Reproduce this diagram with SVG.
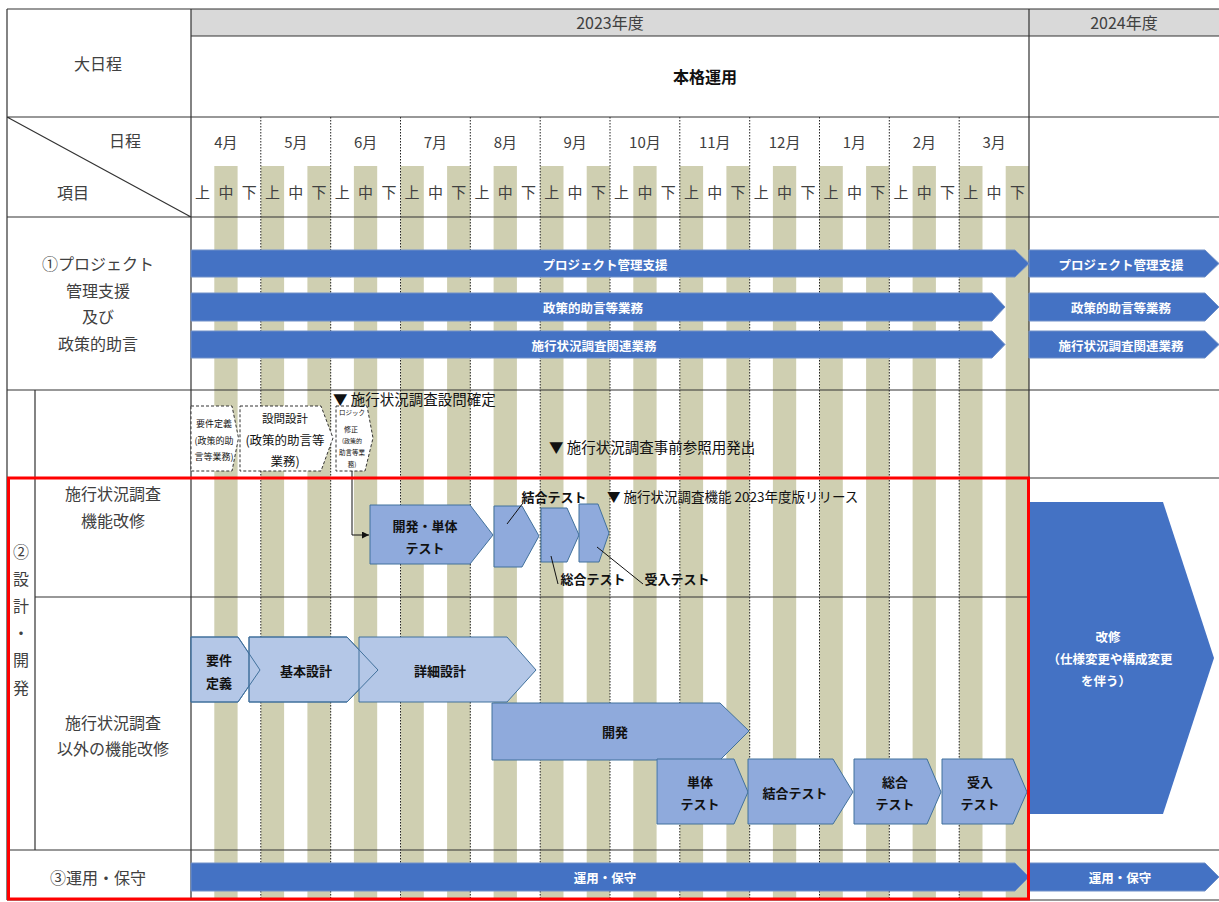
<svg xmlns="http://www.w3.org/2000/svg" width="1219" height="902" viewBox="0 0 1219 902">
<style>
.t{font-family:"Noto Sans CJK JP","Noto Sans",sans-serif;fill:#404040;dominant-baseline:central;text-anchor:middle}
.f16{font-size:16px}
.f15{font-size:15px}
.w{fill:#fff;font-weight:bold;font-size:12.5px}
.b{font-weight:bold;fill:#111;font-size:13px}
.k{fill:#111}
.stripe{fill:#cfcfb1}
.grid{stroke:#333;stroke-width:1.2;fill:none}
.dot{stroke:#222;stroke-dasharray:1.5 1.5;stroke-width:1}
.dk{fill:#4472c4;stroke:#7090c8;stroke-width:1}
.lt{fill:#b4c7e7;stroke:#41719c;stroke-width:1}
.ltl{fill:none;stroke:#41719c;stroke-width:1}
.md{fill:#8faadc;stroke:#41719c;stroke-width:1}
.ds{fill:#fff;stroke:#333;stroke-width:1;stroke-dasharray:3 2}
.ln{stroke:#111;stroke-width:1;fill:none}
</style>
<defs>
<marker id="ah" viewBox="0 0 10 10" refX="10" refY="5" markerWidth="7" markerHeight="7" orient="auto" markerUnits="userSpaceOnUse"><path d="M0,0 L10,5 L0,10 z" fill="#111"/></marker>
</defs>
<rect width="1219" height="902" fill="#fff"/>
<!-- header bands -->
<rect x="191" y="9" width="1028" height="27" fill="#d9d9d9"/>
<!-- stripes -->
<g id="stripes">
<rect class="stripe" x="214.3" y="166" width="23.3" height="734"/>
<rect class="stripe" x="260.8" y="166" width="23.3" height="734"/>
<rect class="stripe" x="307.4" y="166" width="23.3" height="734"/>
<rect class="stripe" x="353.9" y="166" width="23.3" height="734"/>
<rect class="stripe" x="400.5" y="166" width="23.3" height="734"/>
<rect class="stripe" x="447.1" y="166" width="23.3" height="734"/>
<rect class="stripe" x="493.6" y="166" width="23.3" height="734"/>
<rect class="stripe" x="540.2" y="166" width="23.3" height="734"/>
<rect class="stripe" x="586.7" y="166" width="23.3" height="734"/>
<rect class="stripe" x="633.3" y="166" width="23.3" height="734"/>
<rect class="stripe" x="679.8" y="166" width="23.3" height="734"/>
<rect class="stripe" x="726.4" y="166" width="23.3" height="734"/>
<rect class="stripe" x="772.9" y="166" width="23.3" height="734"/>
<rect class="stripe" x="819.5" y="166" width="23.3" height="734"/>
<rect class="stripe" x="866.1" y="166" width="23.3" height="734"/>
<rect class="stripe" x="912.6" y="166" width="23.3" height="734"/>
<rect class="stripe" x="959.2" y="166" width="23.3" height="734"/>
<rect class="stripe" x="1005.7" y="166" width="23.3" height="734"/>
</g>
<!-- grid -->
<g id="grid">
<line class="dot" x1="260.8" y1="117" x2="260.8" y2="900"/>
<line class="dot" x1="330.7" y1="117" x2="330.7" y2="900"/>
<line class="dot" x1="400.5" y1="117" x2="400.5" y2="900"/>
<line class="dot" x1="470.3" y1="117" x2="470.3" y2="900"/>
<line class="dot" x1="540.2" y1="117" x2="540.2" y2="900"/>
<line class="dot" x1="610" y1="117" x2="610" y2="900"/>
<line class="dot" x1="679.8" y1="117" x2="679.8" y2="900"/>
<line class="dot" x1="749.7" y1="117" x2="749.7" y2="900"/>
<line class="dot" x1="819.5" y1="117" x2="819.5" y2="900"/>
<line class="dot" x1="889.3" y1="117" x2="889.3" y2="900"/>
<line class="dot" x1="959.2" y1="117" x2="959.2" y2="900"/>
<path class="grid" d="M7,9 H1219 M191,36 H1219 M7,117 H1219 M7,217 H1219 M7,390 H1219 M35,478 H1219 M35,597 H1029 M7,850 H1219 M7,900 H1219 M7,9 V900 M191,9 V900 M35,390 V850 M1029,9 V900 M7,117 L191,217"/>
</g>
<!-- header texts -->
<g id="header">
<text class="t f16" x="610" y="22">2023年度</text>
<text class="t f16" x="1124" y="22">2024年度</text>
<text class="t f16" x="98" y="63">大日程</text>
<text class="t f16" x="705" y="76" style="font-weight:bold;fill:#111">本格運用</text>
<text class="t f16" x="125" y="140">日程</text>
<text class="t f16" x="73" y="192">項目</text>
</g>
<g id="months" class="t f15">
<text x="225.9" y="141">4月</text><text x="295.8" y="141">5月</text><text x="365.6" y="141">6月</text><text x="435.4" y="141">7月</text><text x="505.3" y="141">8月</text><text x="575.1" y="141">9月</text><text x="644.9" y="141">10月</text><text x="714.8" y="141">11月</text><text x="784.6" y="141">12月</text><text x="854.4" y="141">1月</text><text x="924.3" y="141">2月</text><text x="994.1" y="141">3月</text>
</g>
<g id="subperiods" class="t f15">
<text x="202.6" y="191">上</text><text x="225.9" y="191">中</text><text x="249.2" y="191">下</text>
<text x="272.5" y="191">上</text><text x="295.8" y="191">中</text><text x="319" y="191">下</text>
<text x="342.3" y="191">上</text><text x="365.6" y="191">中</text><text x="388.9" y="191">下</text>
<text x="412.1" y="191">上</text><text x="435.4" y="191">中</text><text x="458.7" y="191">下</text>
<text x="482" y="191">上</text><text x="505.3" y="191">中</text><text x="528.5" y="191">下</text>
<text x="551.8" y="191">上</text><text x="575.1" y="191">中</text><text x="598.4" y="191">下</text>
<text x="621.6" y="191">上</text><text x="644.9" y="191">中</text><text x="668.2" y="191">下</text>
<text x="691.5" y="191">上</text><text x="714.8" y="191">中</text><text x="738" y="191">下</text>
<text x="761.3" y="191">上</text><text x="784.6" y="191">中</text><text x="807.9" y="191">下</text>
<text x="831.1" y="191">上</text><text x="854.4" y="191">中</text><text x="877.7" y="191">下</text>
<text x="901" y="191">上</text><text x="924.3" y="191">中</text><text x="947.5" y="191">下</text>
<text x="970.8" y="191">上</text><text x="994.1" y="191">中</text><text x="1017.4" y="191">下</text>
</g>
<!-- left labels -->
<g id="row-labels" class="t f16">
<text x="98" y="263">①プロジェクト</text>
<text x="98" y="290">管理支援</text>
<text x="98" y="316">及び</text>
<text x="98" y="343">政策的助言</text>
<text x="21" y="551">②</text><text x="21" y="578">設</text><text x="21" y="605">計</text><text x="21" y="632">・</text><text x="21" y="659">開</text><text x="21" y="687">発</text>
<text x="113" y="493">施行状況調査</text>
<text x="113" y="520">機能改修</text>
<text x="113" y="722">施行状況調査</text>
<text x="113" y="748">以外の機能改修</text>
<text x="98" y="877">③運用・保守</text>
</g>
<!-- row 1 bars -->
<g id="pm-2023"><polygon class="dk" points="191,250 1015,250 1029,263.5 1015,277 191,277"/><text class="t w" x="605" y="264">プロジェクト管理支援</text></g>
<g id="policy-2023"><polygon class="dk" points="191,293 992,293 1005,307 992,321 191,321"/><text class="t w" x="593" y="307">政策的助言等業務</text></g>
<g id="survey-2023"><polygon class="dk" points="191,331 992,331 1005,344.5 992,358 191,358"/><text class="t w" x="594" y="345">施行状況調査関連業務</text></g>
<g id="pm-2024"><polygon class="dk" points="1029,250 1205,250 1219,263.5 1205,277 1029,277"/><text class="t w" x="1121" y="264">プロジェクト管理支援</text></g>
<g id="policy-2024"><polygon class="dk" points="1029,293 1205,293 1219,307 1205,321 1029,321"/><text class="t w" x="1121" y="307">政策的助言等業務</text></g>
<g id="survey-2024"><polygon class="dk" points="1029,331 1205,331 1219,344.5 1205,358 1029,358"/><text class="t w" x="1121" y="345">施行状況調査関連業務</text></g>
<!-- dashed tasks -->
<g id="req-def-policy"><polygon class="ds" points="191,406 232,406 238.5,438 232,471 191,471"/>
<text class="t k" x="214" y="423" style="font-size:9px">要件定義</text><text class="t k" x="214" y="440" style="font-size:9px">(政策的助</text><text class="t k" x="214" y="456" style="font-size:9px">言等業務)</text></g>
<g id="question-design"><polygon class="ds" points="240,406 321,406 333,438 321,471 240,471"/>
<text class="t k" x="285" y="418" style="font-size:11.5px">設問設計</text><text class="t k" x="285" y="439" style="font-size:12.5px">(政策的助言等</text><text class="t k" x="285" y="460" style="font-size:12.5px">業務)</text></g>
<g id="logic-fix"><polygon class="ds" points="336,406 367,406 373,438 365,471 336,471"/>
<text class="t k" x="352" y="412" style="font-size:6.5px">ロジック</text><text class="t k" x="351" y="429" style="font-size:7px">修正</text><text class="t k" x="352" y="440" style="font-size:6px">(政策的</text><text class="t k" x="352" y="452" style="font-size:6.5px">助言等業</text><text class="t k" x="352" y="464" style="font-size:6.5px">務)</text></g>
<g id="milestones">
<text class="t k" x="333" y="398" style="font-size:14.5px;text-anchor:start">▼ 施行状況調査設問確定</text>
<text class="t k" x="549" y="446" style="font-size:14.5px;text-anchor:start">▼ 施行状況調査事前参照用発出</text>
<text class="t k" x="607" y="496" style="font-size:13.5px;text-anchor:start">▼ 施行状況調査機能 2023年度版リリース</text>
</g>
<!-- survey function chevrons -->
<g id="dev-unit"><polygon class="md" points="370,505 470,505 493,535 470,564 370,564"/><text class="t b" x="425" y="525">開発・単体</text><text class="t b" x="425" y="547">テスト</text></g>
<g id="integ-1"><polygon class="md" points="494,506 522,506 539,536 522,567 494,567"/></g>
<g id="system-1"><polygon class="md" points="541,508 567,508 579,535 567,562 541,562"/></g>
<g id="accept-1"><polygon class="md" points="579,504 598,504 609,533 599,562 579,562"/></g>
<g id="callouts">
<text class="t b" x="554" y="496">結合テスト</text>
<text class="t b" x="593" y="578">総合テスト</text>
<text class="t b" x="677" y="578">受入テスト</text>
</g>
<!-- other function chevrons -->
<g id="req-def"><polygon class="lt" points="191,637 238,637 260,670 238,702 191,702"/></g>
<g id="basic-design"><polygon class="lt" points="249,637 347,637 378,670 347,702 249,702"/></g>
<g id="detail-design"><polygon class="lt" points="359,637 507,637 536,670 507,702 359,702"/></g>
<polygon class="ltl" points="191,637 238,637 260,670 238,702 191,702"/>
<polygon class="ltl" points="249,637 347,637 378,670 347,702 249,702"/>
<text class="t b" x="219" y="659">要件</text><text class="t b" x="219" y="682">定義</text>
<text class="t b" x="306" y="670">基本設計</text>
<text class="t b" x="440" y="670">詳細設計</text>
<g id="dev"><polygon class="md" points="492,703 720,703 749,731 720,760 492,760"/><text class="t b" x="615" y="731">開発</text></g>
<g id="unit-test"><polygon class="md" points="657,759 734,759 748,792 734,824 657,824"/><text class="t b" x="700" y="781">単体</text><text class="t b" x="700" y="803">テスト</text></g>
<g id="integ-test"><polygon class="md" points="748,759 833,759 853,792 833,824 748,824"/><text class="t b" x="795" y="792">結合テスト</text></g>
<g id="system-test"><polygon class="md" points="854,759 927,759 941,792 927,824 854,824"/><text class="t b" x="895" y="781">総合</text><text class="t b" x="895" y="803">テスト</text></g>
<g id="accept-test"><polygon class="md" points="942,759 1013,759 1027,792 1013,824 942,824"/><text class="t b" x="980" y="781">受入</text><text class="t b" x="980" y="803">テスト</text></g>
<!-- 2024 modification -->
<g id="modify-2024"><polygon class="dk" points="1028,502 1163,502 1214,658 1163,814 1028,814" style="stroke:none"/>
<text class="t w" x="1108" y="636" style="font-size:12.5px">改修</text>
<text class="t w" x="1110" y="658" style="font-size:12.5px">（仕様変更や構成変更</text>
<text class="t w" x="1106" y="680" style="font-size:12.5px">を伴う）</text></g>
<!-- operations -->
<g id="ops-2023"><polygon class="dk" points="191,863 1015,863 1029,877 1015,891 191,891"/><text class="t w" x="605" y="877">運用・保守</text></g>
<g id="ops-2024"><polygon class="dk" points="1029,863 1205,863 1219,877 1205,891 1029,891"/><text class="t w" x="1120" y="877">運用・保守</text></g>
<!-- connectors -->
<g id="connectors">
<path class="ln" d="M352,471 V535 H369" marker-end="url(#ah)"/>
<line class="ln" x1="523" y1="503" x2="507" y2="524"/>
<line class="ln" x1="551" y1="556" x2="558" y2="584"/>
<line class="ln" x1="597" y1="547" x2="643" y2="584"/>
</g>
<!-- red frame -->
<rect x="8.5" y="478" width="1020" height="421" fill="none" stroke="#ff0000" stroke-width="3"/>
</svg>
